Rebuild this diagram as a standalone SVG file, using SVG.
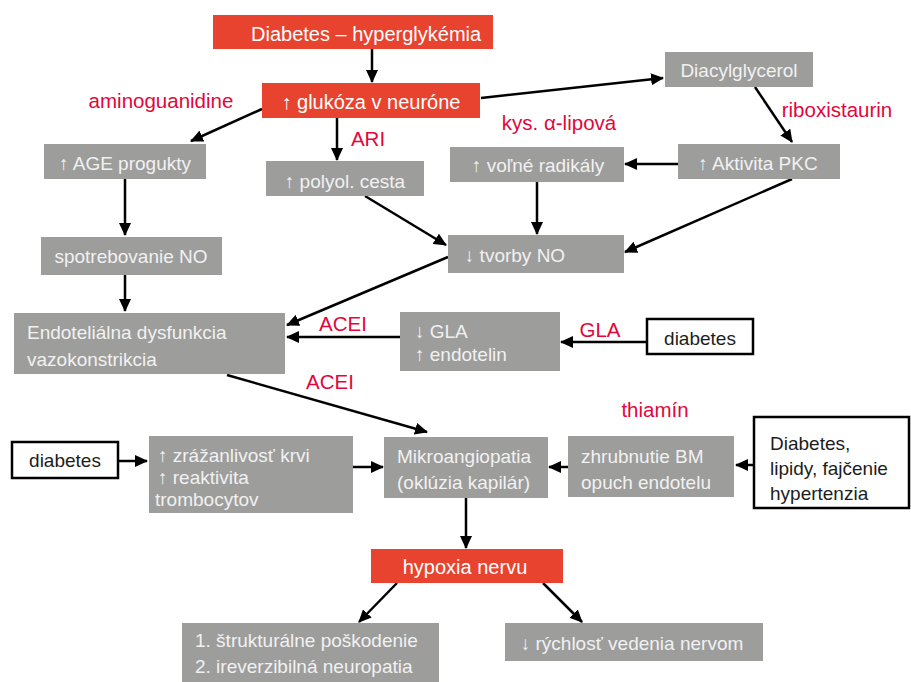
<svg xmlns="http://www.w3.org/2000/svg" width="911" height="682" viewBox="0 0 911 682">
<style>
  text { font-family: "Liberation Sans", Arial, sans-serif; font-size: 19px; }
  .red { fill: #e8432e; }
  .gray { fill: #9d9d9c; }
  .wbox { fill: #ffffff; stroke: #000000; stroke-width: 2.5; }
  .tw { fill: #ffffff; font-size: 20px; }
  .tg { fill: #f1f1f1; }
  .tk { fill: #1d1d1b; }
  .lab { fill: #e2063a; font-size: 20.5px; }
  .c { text-anchor: middle; }
  .conn line { stroke: #000000; stroke-width: 2.5; fill: none; marker-end: url(#ah); }
</style>
<defs>
  <marker id="ah" markerUnits="userSpaceOnUse" markerWidth="13" markerHeight="12" viewBox="0 0 13 12" refX="12" refY="6" orient="auto">
    <path d="M0,0 L13,6 L0,12 z" fill="#000000"/>
  </marker>
</defs>

<g id="connectors" class="conn">
  <line x1="372" y1="49" x2="372" y2="82"/>
  <line x1="262" y1="109" x2="191" y2="141"/>
  <line x1="337" y1="118" x2="337" y2="160"/>
  <line x1="481" y1="98" x2="663" y2="78"/>
  <line x1="125" y1="179" x2="125" y2="235"/>
  <line x1="365" y1="196" x2="446" y2="245"/>
  <line x1="755" y1="87" x2="792" y2="142"/>
  <line x1="678" y1="164" x2="625" y2="164"/>
  <line x1="537" y1="182" x2="537" y2="234"/>
  <line x1="792" y1="179" x2="625" y2="252"/>
  <line x1="448" y1="257" x2="287" y2="325"/>
  <line x1="125" y1="275" x2="125" y2="311"/>
  <line x1="400" y1="337" x2="287" y2="337"/>
  <line x1="647" y1="342" x2="561" y2="342"/>
  <line x1="227" y1="375" x2="427" y2="432"/>
  <line x1="118" y1="461" x2="147" y2="461"/>
  <line x1="353" y1="467" x2="383" y2="467"/>
  <line x1="753" y1="465" x2="736" y2="465"/>
  <line x1="568" y1="467" x2="549" y2="467"/>
  <line x1="466" y1="498" x2="466" y2="548"/>
  <line x1="397" y1="583" x2="359" y2="622"/>
  <line x1="543" y1="583" x2="582" y2="622"/>
</g>

<g id="n-diabetes-hyper">
  <rect class="red" x="213" y="15" width="280" height="34"/>
  <text class="tw" x="251" y="41">Diabetes – hyperglykémia</text>
</g>
<g id="n-glukoza">
  <rect class="red" x="262" y="83" width="218" height="35"/>
  <text class="tw c" x="371" y="109">↑ glukóza v neuróne</text>
</g>
<g id="l-aminoguanidine">
  <text class="lab c" x="161" y="108">aminoguanidine</text>
</g>
<g id="n-age">
  <rect class="gray" x="44" y="144" width="162" height="35"/>
  <text class="tg c" x="125" y="170">↑ AGE progukty</text>
</g>
<g id="l-ari">
  <text class="lab c" x="368" y="146">ARI</text>
</g>
<g id="n-polyol">
  <rect class="gray" x="266" y="161" width="158" height="35"/>
  <text class="tg c" x="345" y="188">↑ polyol. cesta</text>
</g>
<g id="n-spotrebovanie">
  <rect class="gray" x="41" y="237" width="181" height="38"/>
  <text class="tg c" x="131" y="263">spotrebovanie NO</text>
</g>
<g id="n-diacylglycerol">
  <rect class="gray" x="665" y="52" width="148" height="35"/>
  <text class="tg c" x="739" y="77">Diacylglycerol</text>
</g>
<g id="l-riboxistaurin">
  <text class="lab c" x="837" y="117">riboxistaurin</text>
</g>
<g id="l-lipova">
  <text class="lab c" x="559" y="130">kys. α-lipová</text>
</g>
<g id="n-radikaly">
  <rect class="gray" x="450" y="147" width="174" height="35"/>
  <text class="tg c" x="538" y="172">↑ voľné radikály</text>
</g>
<g id="n-pkc">
  <rect class="gray" x="678" y="144" width="162" height="35"/>
  <text class="tg c" x="758" y="170">↑ Aktivita PKC</text>
</g>
<g id="n-tvorby">
  <rect class="gray" x="448" y="235" width="176" height="38"/>
  <text class="tg c" x="515" y="262">↓ tvorby NO</text>
</g>
<g id="n-endotel">
  <rect class="gray" x="14" y="313" width="271" height="61"/>
  <text class="tg" x="27" y="339">Endoteliálna dysfunkcia</text>
  <text class="tg" x="27" y="366">vazokonstrikcia</text>
</g>
<g id="l-acei1">
  <text class="lab c" x="343" y="331">ACEI</text>
</g>
<g id="l-acei2">
  <text class="lab c" x="330" y="389">ACEI</text>
</g>
<g id="n-gla">
  <rect class="gray" x="400" y="312" width="160" height="59"/>
  <text class="tg" x="415" y="338">↓ GLA</text>
  <text class="tg" x="415" y="361">↑ endotelin</text>
</g>
<g id="l-gla">
  <text class="lab c" x="600" y="337">GLA</text>
</g>
<g id="n-diabetes-right">
  <rect class="wbox" x="647" y="319" width="106" height="35"/>
  <text class="tk c" x="700" y="345">diabetes</text>
</g>
<g id="l-thiamin">
  <text class="lab c" x="655" y="417">thiamín</text>
</g>
<g id="n-diabetes-left">
  <rect class="wbox" x="12" y="442" width="106" height="36"/>
  <text class="tk c" x="65" y="467">diabetes</text>
</g>
<g id="n-zrazanlivost">
  <rect class="gray" x="149" y="436" width="204" height="77"/>
  <text class="tg" x="158" y="462">↑ zrážanlivosť krvi</text>
  <text class="tg" x="158" y="484">↑ reaktivita</text>
  <text class="tg" x="155" y="506">trombocytov</text>
</g>
<g id="n-mikroangiopatia">
  <rect class="gray" x="384" y="437" width="164" height="61"/>
  <text class="tg" x="397" y="463">Mikroangiopatia</text>
  <text class="tg" x="397" y="489">(oklúzia kapilár)</text>
</g>
<g id="n-zhrubnutie">
  <rect class="gray" x="568" y="436" width="166" height="61"/>
  <text class="tg" x="581" y="463">zhrubnutie BM</text>
  <text class="tg" x="581" y="489">opuch endotelu</text>
</g>
<g id="n-rizika">
  <rect class="wbox" x="754" y="417" width="155" height="91"/>
  <text class="tk" x="770" y="450">Diabetes,</text>
  <text class="tk" x="770" y="475">lipidy, fajčenie</text>
  <text class="tk" x="770" y="500">hypertenzia</text>
</g>
<g id="n-hypoxia">
  <rect class="red" x="371" y="549" width="192" height="34"/>
  <text class="tw c" x="465" y="574">hypoxia nervu</text>
</g>
<g id="n-poskodenie">
  <rect class="gray" x="182" y="623" width="257" height="59"/>
  <text class="tg" x="195" y="647">1. štrukturálne poškodenie</text>
  <text class="tg" x="195" y="673">2. ireverzibilná neuropatia</text>
</g>
<g id="n-rychlost">
  <rect class="gray" x="505" y="623" width="258" height="38"/>
  <text class="tg c" x="632" y="650">↓ rýchlosť vedenia nervom</text>
</g>
</svg>
